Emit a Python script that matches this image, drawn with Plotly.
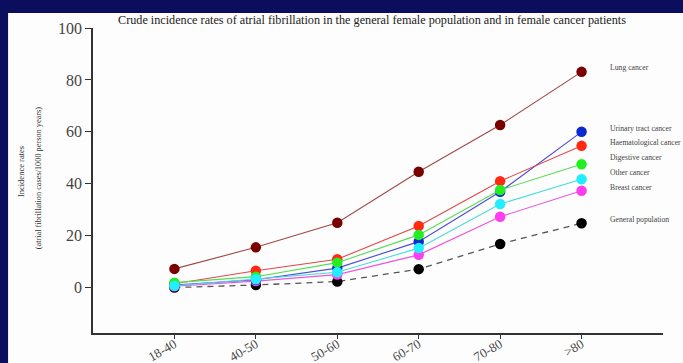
import plotly.graph_objects as go

age_groups = ["18-40", "40-50", "50-60", "60-70", "70-80", ">80"]

lung = [7.2, 15.5, 25.0, 44.6, 62.6, 83.1]
urinary = [1.0, 3.0, 7.5, 17.7, 36.9, 60.0]
haematological = [1.5, 6.5, 10.9, 23.7, 41.0, 54.6]
digestive = [1.9, 4.2, 9.6, 20.3, 37.6, 47.5]
other = [0.7, 3.2, 5.9, 15.2, 32.2, 41.7]
breast = [0.5, 2.5, 5.0, 12.6, 27.3, 37.3]
general = [0.0, 1.0, 2.3, 7.1, 16.8, 24.8]

series_names = ["General population", "Breast cancer", "Urinary tract cancer",
                "Haematological cancer", "Digestive cancer", "Other cancer", "Lung cancer"]
series_values = [general, breast, urinary, haematological, digestive, other, lung]
marker_colors = ["#000000", "#ff3cf0", "#0a2ad0", "#ff2a10", "#22ee22", "#22eeff", "#7a0000"]
line_colors = ["#555555", "#ee55dd", "#4a4ad8", "#e04848", "#55dd55", "#44dddd", "#a04848"]
line_dash = ["dash", "solid", "solid", "solid", "solid", "solid", "solid"]

# label positions (y in data units) for the right-hand labels
label_names = ["Lung cancer", "Urinary tract cancer", "Haematological cancer",
               "Digestive cancer", "Other cancer", "Breast cancer", "General population"]
label_y = [84.8, 61.3, 55.9, 50.2, 44.4, 38.7, 26.3]

SERIF = "Liberation Serif, Times New Roman, serif"

fig = go.Figure()
for name, vals, mc, lc, dash in zip(series_names, series_values, marker_colors, line_colors, line_dash):
    fig.add_trace(go.Scatter(
        x=age_groups, y=vals, name=name, mode="lines+markers",
        line=dict(color=lc, width=1.3 if dash == "dash" else 1.1, dash="6px,5px" if dash == "dash" else "solid"),
        marker=dict(color=mc, size=10.5, line=dict(width=0)),
        showlegend=False,
    ))

annotations = []
for name, y in zip(label_names, label_y):
    annotations.append(dict(
        x=5.33, y=y, xref="x", yref="y", text=name, showarrow=False,
        xanchor="left", yanchor="middle",
        font=dict(family=SERIF, size=7.7, color="#444444"),
    ))

# title
annotations.append(dict(
    x=0.489, y=1.027, xref="paper", yref="paper",
    text="Crude incidence rates of atrial fibrillation in the general female population and in female cancer patients",
    showarrow=False, xanchor="center", yanchor="middle",
    font=dict(family=SERIF, size=12.2, color="#222222"),
))
# y axis title lines
annotations.append(dict(
    x=-0.125, y=0.53, xref="paper", yref="paper", text="Incidence rates",
    textangle=-90, showarrow=False, xanchor="center", yanchor="middle",
    font=dict(family=SERIF, size=8.5, color="#333333"),
))
annotations.append(dict(
    x=-0.095, y=0.51, xref="paper", yref="paper",
    text="(atrial fibrillation cases/1000 person years)",
    textangle=-90, showarrow=False, xanchor="center", yanchor="middle",
    font=dict(family=SERIF, size=8.3, color="#333333"),
))

fig.update_layout(
    width=683, height=363,
    margin=dict(l=93, r=20, t=28, b=30, pad=0, autoexpand=False),
    paper_bgcolor="#0a0e5c",
    plot_bgcolor="rgba(0,0,0,0)",
    annotations=annotations,
    shapes=[dict(type="rect", xref="paper", yref="paper",
                 x0=-0.149, x1=1.25, y0=-0.25, y1=1.049,
                 fillcolor="#fdfdfd", line=dict(width=0), layer="below")],
    xaxis=dict(
        type="category", range=[-1, 6], showgrid=False, zeroline=False, automargin=False,
        showline=True, linecolor="#333333", linewidth=1.5,
        ticks="outside", ticklen=4, tickcolor="#333333", tickwidth=1,
        ticklabelstandoff=-7,
        tickangle=-30, tickfont=dict(family=SERIF, size=13, color="#444444"),
    ),
    yaxis=dict(
        range=[-17.5, 100], tickvals=[0, 20, 40, 60, 80, 100], automargin=False,
        showgrid=False, zeroline=False,
        showline=True, linecolor="#333333", linewidth=1.5,
        ticks="outside", ticklen=6, tickcolor="#333333", tickwidth=1,
        tickfont=dict(family=SERIF, size=16, color="#444444"),
    ),
)

fig.write_html(
    "out.html",
    config={"displayModeBar": False},
    post_script="document.body.style.margin='0';document.body.style.overflow='hidden';",
)
